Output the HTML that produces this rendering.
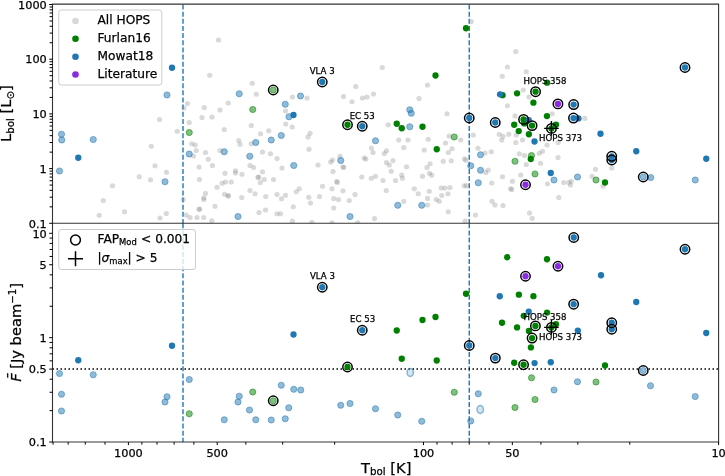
<!DOCTYPE html>
<html><head><meta charset="utf-8"><title>HOPS variability</title>
<style>
html,body{margin:0;padding:0;background:#fff}
svg{display:block}
text{filter:grayscale(1);stroke:#000;stroke-width:.25px}
text{font-family:"DejaVu Sans","Liberation Sans",sans-serif;fill:#000}
</style></head><body>
<svg width="725" height="476" viewBox="0 0 725 476">
<rect width="725" height="476" fill="#fff"/>
<defs>
<clipPath id="cu"><rect x="52.5" y="4.5" width="666.1" height="218.8"/></clipPath>
<clipPath id="cl"><rect x="52.5" y="223.3" width="666.1" height="218.75"/></clipPath>
</defs>
<!-- upper panel -->
<g clip-path="url(#cu)">
<path d="M183.0 4.5V223.3M469.25 4.5V223.3" stroke="#1f77b4" stroke-width="1.4" stroke-dasharray="5 2.15" fill="none"/>
<circle cx="218.5" cy="40.0" r="2.6" fill="#808080" fill-opacity=".3"/>
<circle cx="209.75" cy="75.25" r="2.6" fill="#808080" fill-opacity=".3"/>
<circle cx="187.5" cy="103.5" r="2.6" fill="#808080" fill-opacity=".3"/>
<circle cx="184.0" cy="108.0" r="2.6" fill="#808080" fill-opacity=".3"/>
<circle cx="204.25" cy="107.5" r="2.6" fill="#808080" fill-opacity=".3"/>
<circle cx="220.0" cy="110.0" r="2.6" fill="#808080" fill-opacity=".3"/>
<circle cx="202.0" cy="117.5" r="2.6" fill="#808080" fill-opacity=".3"/>
<circle cx="212.0" cy="117.0" r="2.6" fill="#808080" fill-opacity=".3"/>
<circle cx="159.5" cy="119.5" r="2.6" fill="#808080" fill-opacity=".3"/>
<circle cx="189.25" cy="122.5" r="2.6" fill="#808080" fill-opacity=".3"/>
<circle cx="177.25" cy="131.25" r="2.6" fill="#808080" fill-opacity=".3"/>
<circle cx="191.75" cy="143.75" r="2.6" fill="#808080" fill-opacity=".3"/>
<circle cx="195.25" cy="145.0" r="2.6" fill="#808080" fill-opacity=".3"/>
<circle cx="151.25" cy="146.25" r="2.6" fill="#808080" fill-opacity=".3"/>
<circle cx="196.25" cy="150.5" r="2.6" fill="#808080" fill-opacity=".3"/>
<circle cx="205.5" cy="152.5" r="2.6" fill="#808080" fill-opacity=".3"/>
<circle cx="220.0" cy="150.5" r="2.6" fill="#808080" fill-opacity=".3"/>
<circle cx="193.5" cy="156.0" r="2.6" fill="#808080" fill-opacity=".3"/>
<circle cx="208.25" cy="159.25" r="2.6" fill="#808080" fill-opacity=".3"/>
<circle cx="155.0" cy="165.75" r="2.6" fill="#808080" fill-opacity=".3"/>
<circle cx="212.5" cy="165.5" r="2.6" fill="#808080" fill-opacity=".3"/>
<circle cx="199.0" cy="167.0" r="2.6" fill="#808080" fill-opacity=".3"/>
<circle cx="166.5" cy="172.25" r="2.6" fill="#808080" fill-opacity=".3"/>
<circle cx="139.25" cy="176.75" r="2.6" fill="#808080" fill-opacity=".3"/>
<circle cx="150.5" cy="179.75" r="2.6" fill="#808080" fill-opacity=".3"/>
<circle cx="199.5" cy="179.5" r="2.6" fill="#808080" fill-opacity=".3"/>
<circle cx="112.5" cy="185.75" r="2.6" fill="#808080" fill-opacity=".3"/>
<circle cx="217.0" cy="187.25" r="2.6" fill="#808080" fill-opacity=".3"/>
<circle cx="205.5" cy="193.25" r="2.6" fill="#808080" fill-opacity=".3"/>
<circle cx="103.25" cy="200.5" r="2.6" fill="#808080" fill-opacity=".3"/>
<circle cx="183.25" cy="199.5" r="2.6" fill="#808080" fill-opacity=".3"/>
<circle cx="203.75" cy="199.5" r="2.6" fill="#808080" fill-opacity=".3"/>
<circle cx="215.0" cy="206.25" r="2.6" fill="#808080" fill-opacity=".3"/>
<circle cx="199.0" cy="209.25" r="2.6" fill="#808080" fill-opacity=".3"/>
<circle cx="124.5" cy="211.75" r="2.6" fill="#808080" fill-opacity=".3"/>
<circle cx="99.25" cy="215.25" r="2.6" fill="#808080" fill-opacity=".3"/>
<circle cx="166.25" cy="213.5" r="2.6" fill="#808080" fill-opacity=".3"/>
<circle cx="186.25" cy="215.0" r="2.6" fill="#808080" fill-opacity=".3"/>
<circle cx="160.0" cy="218.0" r="2.6" fill="#808080" fill-opacity=".3"/>
<circle cx="190.0" cy="217.5" r="2.6" fill="#808080" fill-opacity=".3"/>
<circle cx="197.0" cy="217.5" r="2.6" fill="#808080" fill-opacity=".3"/>
<circle cx="203.75" cy="217.5" r="2.6" fill="#808080" fill-opacity=".3"/>
<circle cx="382.25" cy="67.5" r="2.6" fill="#808080" fill-opacity=".3"/>
<circle cx="252.25" cy="83.25" r="2.6" fill="#808080" fill-opacity=".3"/>
<circle cx="355.75" cy="86.5" r="2.6" fill="#808080" fill-opacity=".3"/>
<circle cx="256.25" cy="94.25" r="2.6" fill="#808080" fill-opacity=".3"/>
<circle cx="292.5" cy="97.0" r="2.6" fill="#808080" fill-opacity=".3"/>
<circle cx="307.0" cy="98.0" r="2.6" fill="#808080" fill-opacity=".3"/>
<circle cx="343.5" cy="96.5" r="2.6" fill="#808080" fill-opacity=".3"/>
<circle cx="373.5" cy="94.0" r="2.6" fill="#808080" fill-opacity=".3"/>
<circle cx="367.0" cy="97.0" r="2.6" fill="#808080" fill-opacity=".3"/>
<circle cx="362.5" cy="98.0" r="2.6" fill="#808080" fill-opacity=".3"/>
<circle cx="352.0" cy="101.75" r="2.6" fill="#808080" fill-opacity=".3"/>
<circle cx="228.25" cy="103.0" r="2.6" fill="#808080" fill-opacity=".3"/>
<circle cx="285.5" cy="111.0" r="2.6" fill="#808080" fill-opacity=".3"/>
<circle cx="251.25" cy="125.5" r="2.6" fill="#808080" fill-opacity=".3"/>
<circle cx="285.75" cy="124.0" r="2.6" fill="#808080" fill-opacity=".3"/>
<circle cx="292.25" cy="127.0" r="2.6" fill="#808080" fill-opacity=".3"/>
<circle cx="224.25" cy="129.5" r="2.6" fill="#808080" fill-opacity=".3"/>
<circle cx="268.75" cy="130.75" r="2.6" fill="#808080" fill-opacity=".3"/>
<circle cx="260.5" cy="133.75" r="2.6" fill="#808080" fill-opacity=".3"/>
<circle cx="310.0" cy="133.25" r="2.6" fill="#808080" fill-opacity=".3"/>
<circle cx="308.0" cy="137.0" r="2.6" fill="#808080" fill-opacity=".3"/>
<circle cx="238.75" cy="140.5" r="2.6" fill="#808080" fill-opacity=".3"/>
<circle cx="240.0" cy="144.25" r="2.6" fill="#808080" fill-opacity=".3"/>
<circle cx="251.25" cy="143.75" r="2.6" fill="#808080" fill-opacity=".3"/>
<circle cx="388.25" cy="124.75" r="2.6" fill="#808080" fill-opacity=".3"/>
<circle cx="309.0" cy="149.25" r="2.6" fill="#808080" fill-opacity=".3"/>
<circle cx="262.5" cy="152.0" r="2.6" fill="#808080" fill-opacity=".3"/>
<circle cx="270.5" cy="153.75" r="2.6" fill="#808080" fill-opacity=".3"/>
<circle cx="371.5" cy="148.0" r="2.6" fill="#808080" fill-opacity=".3"/>
<circle cx="373.0" cy="152.5" r="2.6" fill="#808080" fill-opacity=".3"/>
<circle cx="386.5" cy="150.75" r="2.6" fill="#808080" fill-opacity=".3"/>
<circle cx="384.25" cy="153.5" r="2.6" fill="#808080" fill-opacity=".3"/>
<circle cx="340.0" cy="156.25" r="2.6" fill="#808080" fill-opacity=".3"/>
<circle cx="277.0" cy="158.5" r="2.6" fill="#808080" fill-opacity=".3"/>
<circle cx="332.5" cy="160.0" r="2.6" fill="#808080" fill-opacity=".3"/>
<circle cx="330.75" cy="162.0" r="2.6" fill="#808080" fill-opacity=".3"/>
<circle cx="364.25" cy="158.0" r="2.6" fill="#808080" fill-opacity=".3"/>
<circle cx="393.0" cy="160.5" r="2.6" fill="#808080" fill-opacity=".3"/>
<circle cx="386.5" cy="162.5" r="2.6" fill="#808080" fill-opacity=".3"/>
<circle cx="389.25" cy="165.0" r="2.6" fill="#808080" fill-opacity=".3"/>
<circle cx="250.0" cy="165.5" r="2.6" fill="#808080" fill-opacity=".3"/>
<circle cx="253.75" cy="167.5" r="2.6" fill="#808080" fill-opacity=".3"/>
<circle cx="282.0" cy="168.0" r="2.6" fill="#808080" fill-opacity=".3"/>
<circle cx="318.0" cy="165.0" r="2.6" fill="#808080" fill-opacity=".3"/>
<circle cx="343.0" cy="167.0" r="2.6" fill="#808080" fill-opacity=".3"/>
<circle cx="235.5" cy="170.75" r="2.6" fill="#808080" fill-opacity=".3"/>
<circle cx="235.5" cy="173.0" r="2.6" fill="#808080" fill-opacity=".3"/>
<circle cx="225.0" cy="173.25" r="2.6" fill="#808080" fill-opacity=".3"/>
<circle cx="242.0" cy="174.25" r="2.6" fill="#808080" fill-opacity=".3"/>
<circle cx="262.5" cy="171.75" r="2.6" fill="#808080" fill-opacity=".3"/>
<circle cx="333.0" cy="171.5" r="2.6" fill="#808080" fill-opacity=".3"/>
<circle cx="258.75" cy="177.0" r="2.6" fill="#808080" fill-opacity=".3"/>
<circle cx="264.25" cy="179.5" r="2.6" fill="#808080" fill-opacity=".3"/>
<circle cx="273.5" cy="179.5" r="2.6" fill="#808080" fill-opacity=".3"/>
<circle cx="260.25" cy="182.5" r="2.6" fill="#808080" fill-opacity=".3"/>
<circle cx="361.75" cy="177.0" r="2.6" fill="#808080" fill-opacity=".3"/>
<circle cx="375.5" cy="176.25" r="2.6" fill="#808080" fill-opacity=".3"/>
<circle cx="371.25" cy="178.25" r="2.6" fill="#808080" fill-opacity=".3"/>
<circle cx="383.0" cy="180.5" r="2.6" fill="#808080" fill-opacity=".3"/>
<circle cx="336.75" cy="181.5" r="2.6" fill="#808080" fill-opacity=".3"/>
<circle cx="225.5" cy="182.0" r="2.6" fill="#808080" fill-opacity=".3"/>
<circle cx="231.25" cy="182.0" r="2.6" fill="#808080" fill-opacity=".3"/>
<circle cx="222.0" cy="183.25" r="2.6" fill="#808080" fill-opacity=".3"/>
<circle cx="322.5" cy="186.25" r="2.6" fill="#808080" fill-opacity=".3"/>
<circle cx="299.25" cy="188.75" r="2.6" fill="#808080" fill-opacity=".3"/>
<circle cx="296.25" cy="191.75" r="2.6" fill="#808080" fill-opacity=".3"/>
<circle cx="332.0" cy="188.75" r="2.6" fill="#808080" fill-opacity=".3"/>
<circle cx="343.0" cy="190.75" r="2.6" fill="#808080" fill-opacity=".3"/>
<circle cx="386.25" cy="190.5" r="2.6" fill="#808080" fill-opacity=".3"/>
<circle cx="250.0" cy="190.5" r="2.6" fill="#808080" fill-opacity=".3"/>
<circle cx="255.0" cy="193.75" r="2.6" fill="#808080" fill-opacity=".3"/>
<circle cx="224.5" cy="194.25" r="2.6" fill="#808080" fill-opacity=".3"/>
<circle cx="228.0" cy="195.5" r="2.6" fill="#808080" fill-opacity=".3"/>
<circle cx="277.0" cy="194.5" r="2.6" fill="#808080" fill-opacity=".3"/>
<circle cx="285.5" cy="195.25" r="2.6" fill="#808080" fill-opacity=".3"/>
<circle cx="265.75" cy="196.5" r="2.6" fill="#808080" fill-opacity=".3"/>
<circle cx="241.75" cy="197.5" r="2.6" fill="#808080" fill-opacity=".3"/>
<circle cx="281.5" cy="198.75" r="2.6" fill="#808080" fill-opacity=".3"/>
<circle cx="308.75" cy="197.25" r="2.6" fill="#808080" fill-opacity=".3"/>
<circle cx="319.5" cy="196.5" r="2.6" fill="#808080" fill-opacity=".3"/>
<circle cx="355.0" cy="194.5" r="2.6" fill="#808080" fill-opacity=".3"/>
<circle cx="333.75" cy="198.5" r="2.6" fill="#808080" fill-opacity=".3"/>
<circle cx="338.5" cy="199.5" r="2.6" fill="#808080" fill-opacity=".3"/>
<circle cx="349.25" cy="200.5" r="2.6" fill="#808080" fill-opacity=".3"/>
<circle cx="310.5" cy="203.0" r="2.6" fill="#808080" fill-opacity=".3"/>
<circle cx="333.75" cy="208.0" r="2.6" fill="#808080" fill-opacity=".3"/>
<circle cx="293.25" cy="206.75" r="2.6" fill="#808080" fill-opacity=".3"/>
<circle cx="265.5" cy="210.0" r="2.6" fill="#808080" fill-opacity=".3"/>
<circle cx="259.0" cy="212.5" r="2.6" fill="#808080" fill-opacity=".3"/>
<circle cx="277.0" cy="213.75" r="2.6" fill="#808080" fill-opacity=".3"/>
<circle cx="280.5" cy="213.75" r="2.6" fill="#808080" fill-opacity=".3"/>
<circle cx="471.25" cy="21.5" r="2.6" fill="#808080" fill-opacity=".3"/>
<circle cx="515.75" cy="51.5" r="2.6" fill="#808080" fill-opacity=".3"/>
<circle cx="507.5" cy="67.0" r="2.6" fill="#808080" fill-opacity=".3"/>
<circle cx="526.25" cy="71.75" r="2.6" fill="#808080" fill-opacity=".3"/>
<circle cx="502.25" cy="76.25" r="2.6" fill="#808080" fill-opacity=".3"/>
<circle cx="427.5" cy="85.0" r="2.6" fill="#808080" fill-opacity=".3"/>
<circle cx="523.25" cy="90.0" r="2.6" fill="#808080" fill-opacity=".3"/>
<circle cx="419.0" cy="98.5" r="2.6" fill="#808080" fill-opacity=".3"/>
<circle cx="529.0" cy="97.0" r="2.6" fill="#808080" fill-opacity=".3"/>
<circle cx="507.5" cy="105.75" r="2.6" fill="#808080" fill-opacity=".3"/>
<circle cx="447.0" cy="113.75" r="2.6" fill="#808080" fill-opacity=".3"/>
<circle cx="398.75" cy="140.0" r="2.6" fill="#808080" fill-opacity=".3"/>
<circle cx="408.0" cy="140.0" r="2.6" fill="#808080" fill-opacity=".3"/>
<circle cx="428.25" cy="139.25" r="2.6" fill="#808080" fill-opacity=".3"/>
<circle cx="403.75" cy="147.5" r="2.6" fill="#808080" fill-opacity=".3"/>
<circle cx="424.25" cy="150.0" r="2.6" fill="#808080" fill-opacity=".3"/>
<circle cx="445.5" cy="143.0" r="2.6" fill="#808080" fill-opacity=".3"/>
<circle cx="460.75" cy="140.0" r="2.6" fill="#808080" fill-opacity=".3"/>
<circle cx="448.25" cy="152.5" r="2.6" fill="#808080" fill-opacity=".3"/>
<circle cx="452.0" cy="148.75" r="2.6" fill="#808080" fill-opacity=".3"/>
<circle cx="443.25" cy="161.25" r="2.6" fill="#808080" fill-opacity=".3"/>
<circle cx="451.25" cy="160.75" r="2.6" fill="#808080" fill-opacity=".3"/>
<circle cx="430.0" cy="163.75" r="2.6" fill="#808080" fill-opacity=".3"/>
<circle cx="427.0" cy="167.5" r="2.6" fill="#808080" fill-opacity=".3"/>
<circle cx="406.5" cy="166.75" r="2.6" fill="#808080" fill-opacity=".3"/>
<circle cx="464.5" cy="158.75" r="2.6" fill="#808080" fill-opacity=".3"/>
<circle cx="473.25" cy="135.0" r="2.6" fill="#808080" fill-opacity=".3"/>
<circle cx="478.0" cy="148.25" r="2.6" fill="#808080" fill-opacity=".3"/>
<circle cx="485.0" cy="153.0" r="2.6" fill="#808080" fill-opacity=".3"/>
<circle cx="491.25" cy="151.75" r="2.6" fill="#808080" fill-opacity=".3"/>
<circle cx="499.25" cy="134.25" r="2.6" fill="#808080" fill-opacity=".3"/>
<circle cx="503.0" cy="136.25" r="2.6" fill="#808080" fill-opacity=".3"/>
<circle cx="501.75" cy="140.0" r="2.6" fill="#808080" fill-opacity=".3"/>
<circle cx="508.75" cy="134.25" r="2.6" fill="#808080" fill-opacity=".3"/>
<circle cx="516.25" cy="135.0" r="2.6" fill="#808080" fill-opacity=".3"/>
<circle cx="515.75" cy="142.5" r="2.6" fill="#808080" fill-opacity=".3"/>
<circle cx="522.5" cy="140.0" r="2.6" fill="#808080" fill-opacity=".3"/>
<circle cx="519.25" cy="153.75" r="2.6" fill="#808080" fill-opacity=".3"/>
<circle cx="524.5" cy="155.5" r="2.6" fill="#808080" fill-opacity=".3"/>
<circle cx="539.25" cy="153.25" r="2.6" fill="#808080" fill-opacity=".3"/>
<circle cx="542.5" cy="151.25" r="2.6" fill="#808080" fill-opacity=".3"/>
<circle cx="547.0" cy="145.0" r="2.6" fill="#808080" fill-opacity=".3"/>
<circle cx="540.5" cy="163.25" r="2.6" fill="#808080" fill-opacity=".3"/>
<circle cx="526.25" cy="164.5" r="2.6" fill="#808080" fill-opacity=".3"/>
<circle cx="558.0" cy="157.5" r="2.6" fill="#808080" fill-opacity=".3"/>
<circle cx="488.25" cy="170.0" r="2.6" fill="#808080" fill-opacity=".3"/>
<circle cx="485.75" cy="172.5" r="2.6" fill="#808080" fill-opacity=".3"/>
<circle cx="502.5" cy="176.75" r="2.6" fill="#808080" fill-opacity=".3"/>
<circle cx="520.75" cy="175.0" r="2.6" fill="#808080" fill-opacity=".3"/>
<circle cx="512.5" cy="181.25" r="2.6" fill="#808080" fill-opacity=".3"/>
<circle cx="491.75" cy="183.0" r="2.6" fill="#808080" fill-opacity=".3"/>
<circle cx="510.5" cy="188.75" r="2.6" fill="#808080" fill-opacity=".3"/>
<circle cx="547.5" cy="183.75" r="2.6" fill="#808080" fill-opacity=".3"/>
<circle cx="563.75" cy="182.5" r="2.6" fill="#808080" fill-opacity=".3"/>
<circle cx="568.75" cy="182.5" r="2.6" fill="#808080" fill-opacity=".3"/>
<circle cx="401.75" cy="175.0" r="2.6" fill="#808080" fill-opacity=".3"/>
<circle cx="395.5" cy="180.5" r="2.6" fill="#808080" fill-opacity=".3"/>
<circle cx="422.5" cy="176.25" r="2.6" fill="#808080" fill-opacity=".3"/>
<circle cx="429.5" cy="173.25" r="2.6" fill="#808080" fill-opacity=".3"/>
<circle cx="464.25" cy="185.75" r="2.6" fill="#808080" fill-opacity=".3"/>
<circle cx="414.25" cy="188.75" r="2.6" fill="#808080" fill-opacity=".3"/>
<circle cx="418.25" cy="193.75" r="2.6" fill="#808080" fill-opacity=".3"/>
<circle cx="429.25" cy="191.25" r="2.6" fill="#808080" fill-opacity=".3"/>
<circle cx="441.25" cy="188.0" r="2.6" fill="#808080" fill-opacity=".3"/>
<circle cx="445.0" cy="188.0" r="2.6" fill="#808080" fill-opacity=".3"/>
<circle cx="450.0" cy="187.5" r="2.6" fill="#808080" fill-opacity=".3"/>
<circle cx="441.75" cy="195.5" r="2.6" fill="#808080" fill-opacity=".3"/>
<circle cx="448.0" cy="193.75" r="2.6" fill="#808080" fill-opacity=".3"/>
<circle cx="436.25" cy="199.5" r="2.6" fill="#808080" fill-opacity=".3"/>
<circle cx="439.25" cy="201.25" r="2.6" fill="#808080" fill-opacity=".3"/>
<circle cx="403.75" cy="201.25" r="2.6" fill="#808080" fill-opacity=".3"/>
<circle cx="427.5" cy="205.0" r="2.6" fill="#808080" fill-opacity=".3"/>
<circle cx="492.0" cy="201.25" r="2.6" fill="#808080" fill-opacity=".3"/>
<circle cx="495.0" cy="205.0" r="2.6" fill="#808080" fill-opacity=".3"/>
<circle cx="503.0" cy="205.5" r="2.6" fill="#808080" fill-opacity=".3"/>
<circle cx="448.25" cy="211.75" r="2.6" fill="#808080" fill-opacity=".3"/>
<circle cx="475.5" cy="215.0" r="2.6" fill="#808080" fill-opacity=".3"/>
<circle cx="529.5" cy="213.0" r="2.6" fill="#808080" fill-opacity=".3"/>
<circle cx="558.75" cy="197.5" r="2.6" fill="#808080" fill-opacity=".3"/>
<circle cx="391.25" cy="171.25" r="2.6" fill="#808080" fill-opacity=".3"/>
<circle cx="552.1" cy="113.73" r="2.6" fill="#808080" fill-opacity=".3"/>
<circle cx="515.05" cy="115.9" r="2.6" fill="#808080" fill-opacity=".3"/>
<circle cx="584.81" cy="118.4" r="2.6" fill="#808080" fill-opacity=".3"/>
<circle cx="558.11" cy="142.6" r="2.6" fill="#808080" fill-opacity=".3"/>
<circle cx="595.5" cy="169.25" r="2.6" fill="#808080" fill-opacity=".3"/>
<circle cx="611.75" cy="168.0" r="2.6" fill="#808080" fill-opacity=".3"/>
<circle cx="592.0" cy="176.25" r="2.6" fill="#808080" fill-opacity=".3"/>
<circle cx="571.25" cy="181.25" r="2.6" fill="#808080" fill-opacity=".3"/>
<circle cx="570.5" cy="185.0" r="2.6" fill="#808080" fill-opacity=".3"/>
<circle cx="603.0" cy="186.25" r="2.6" fill="#808080" fill-opacity=".3"/>
<circle cx="203.94" cy="197.74" r="2.6" fill="#808080" fill-opacity=".3"/>
<circle cx="199.76" cy="209.09" r="2.6" fill="#808080" fill-opacity=".3"/>
<circle cx="228.47" cy="196.07" r="2.6" fill="#808080" fill-opacity=".3"/>
<circle cx="211.78" cy="220.77" r="2.6" fill="#808080" fill-opacity=".3"/>
<circle cx="258.01" cy="177.38" r="2.6" fill="#808080" fill-opacity=".3"/>
<circle cx="343.79" cy="167.37" r="2.6" fill="#808080" fill-opacity=".3"/>
<circle cx="337.29" cy="182.39" r="2.6" fill="#808080" fill-opacity=".3"/>
<circle cx="365.82" cy="159.02" r="2.6" fill="#808080" fill-opacity=".3"/>
<circle cx="292.39" cy="221.11" r="2.6" fill="#808080" fill-opacity=".3"/>
<circle cx="311.92" cy="222.44" r="2.6" fill="#808080" fill-opacity=".3"/>
<circle cx="331.94" cy="222.78" r="2.6" fill="#808080" fill-opacity=".3"/>
<circle cx="357.81" cy="222.78" r="2.6" fill="#808080" fill-opacity=".3"/>
<circle cx="402.38" cy="178.21" r="2.6" fill="#808080" fill-opacity=".3"/>
<circle cx="431.75" cy="175.21" r="2.6" fill="#808080" fill-opacity=".3"/>
<circle cx="427.58" cy="198.41" r="2.6" fill="#808080" fill-opacity=".3"/>
<circle cx="374.5" cy="218.6" r="2.6" fill="#808080" fill-opacity=".3"/>
<circle cx="465.13" cy="221.11" r="2.6" fill="#808080" fill-opacity=".3"/>
<circle cx="465.8" cy="160.19" r="2.6" fill="#808080" fill-opacity=".3"/>
<circle cx="466.46" cy="185.72" r="2.6" fill="#808080" fill-opacity=".3"/>
<circle cx="532.22" cy="218.27" r="2.6" fill="#808080" fill-opacity=".3"/>
<circle cx="511.86" cy="189.4" r="2.6" fill="#808080" fill-opacity=".3"/>
<circle cx="449.11" cy="136.1" r="2.6" fill="#808080" fill-opacity=".3"/>
<circle cx="466.0" cy="28.25" r="3.15" fill="#008000"/>
<circle cx="435.5" cy="75.5" r="3.15" fill="#008000"/>
<circle cx="396.75" cy="123.75" r="3.15" fill="#008000"/>
<circle cx="401.75" cy="128.25" r="3.15" fill="#008000"/>
<circle cx="422.5" cy="126.75" r="3.15" fill="#008000"/>
<circle cx="436.75" cy="149.25" r="3.15" fill="#008000"/>
<circle cx="530.75" cy="159.0" r="3.15" fill="#008000"/>
<circle cx="502.53" cy="95.2" r="3.15" fill="#008000"/>
<circle cx="517.05" cy="93.37" r="3.15" fill="#008000"/>
<circle cx="547.09" cy="82.68" r="3.15" fill="#008000"/>
<circle cx="533.41" cy="102.71" r="3.15" fill="#008000"/>
<circle cx="546.93" cy="116.06" r="3.15" fill="#008000"/>
<circle cx="524.23" cy="123.41" r="3.15" fill="#008000"/>
<circle cx="514.21" cy="124.74" r="3.15" fill="#008000"/>
<circle cx="518.72" cy="131.08" r="3.15" fill="#008000"/>
<circle cx="528.9" cy="134.26" r="3.15" fill="#008000"/>
<circle cx="555.94" cy="124.74" r="3.15" fill="#008000"/>
<circle cx="605.0" cy="182.5" r="3.15" fill="#008000"/>
<circle cx="347.5" cy="124.75" r="3.15" fill="#008000"/>
<circle cx="535.58" cy="91.7" r="3.15" fill="#008000"/>
<circle cx="523.56" cy="119.4" r="3.15" fill="#008000"/>
<circle cx="532.07" cy="125.58" r="3.15" fill="#008000"/>
<circle cx="551.43" cy="128.41" r="3.15" fill="#008000"/>
<circle cx="189.25" cy="132.5" r="3.1" fill="#008000" fill-opacity=".5" stroke="#008000" stroke-opacity=".5" stroke-width="1"/>
<circle cx="252.75" cy="109.5" r="3.1" fill="#008000" fill-opacity=".5" stroke="#008000" stroke-opacity=".5" stroke-width="1"/>
<circle cx="454.25" cy="137.0" r="3.1" fill="#008000" fill-opacity=".5" stroke="#008000" stroke-opacity=".5" stroke-width="1"/>
<circle cx="515.0" cy="161.25" r="3.1" fill="#008000" fill-opacity=".5" stroke="#008000" stroke-opacity=".5" stroke-width="1"/>
<circle cx="531.5" cy="155.5" r="3.1" fill="#008000" fill-opacity=".5" stroke="#008000" stroke-opacity=".5" stroke-width="1"/>
<circle cx="535.0" cy="174.0" r="3.1" fill="#008000" fill-opacity=".5" stroke="#008000" stroke-opacity=".5" stroke-width="1"/>
<circle cx="596.0" cy="180.0" r="3.1" fill="#008000" fill-opacity=".5" stroke="#008000" stroke-opacity=".5" stroke-width="1"/>
<circle cx="273.25" cy="90.0" r="3.15" fill="#fff"/>
<circle cx="273.25" cy="90.0" r="3.1" fill="#008000" fill-opacity=".5" stroke="#008000" stroke-opacity=".5" stroke-width="1"/>
<circle cx="167.0" cy="95.0" r="3.1" fill="#1f77b4" fill-opacity=".5" stroke="#1f77b4" stroke-opacity=".5" stroke-width="1"/>
<circle cx="61.5" cy="134.25" r="3.1" fill="#1f77b4" fill-opacity=".5" stroke="#1f77b4" stroke-opacity=".5" stroke-width="1"/>
<circle cx="61.75" cy="140.0" r="3.1" fill="#1f77b4" fill-opacity=".5" stroke="#1f77b4" stroke-opacity=".5" stroke-width="1"/>
<circle cx="93.25" cy="139.5" r="3.1" fill="#1f77b4" fill-opacity=".5" stroke="#1f77b4" stroke-opacity=".5" stroke-width="1"/>
<circle cx="59.5" cy="171.0" r="3.1" fill="#1f77b4" fill-opacity=".5" stroke="#1f77b4" stroke-opacity=".5" stroke-width="1"/>
<circle cx="165.0" cy="181.75" r="3.1" fill="#1f77b4" fill-opacity=".5" stroke="#1f77b4" stroke-opacity=".5" stroke-width="1"/>
<circle cx="189.25" cy="154.0" r="3.1" fill="#1f77b4" fill-opacity=".5" stroke="#1f77b4" stroke-opacity=".5" stroke-width="1"/>
<circle cx="239.25" cy="93.75" r="3.1" fill="#1f77b4" fill-opacity=".5" stroke="#1f77b4" stroke-opacity=".5" stroke-width="1"/>
<circle cx="300.5" cy="96.0" r="3.1" fill="#1f77b4" fill-opacity=".5" stroke="#1f77b4" stroke-opacity=".5" stroke-width="1"/>
<circle cx="285.25" cy="104.25" r="3.1" fill="#1f77b4" fill-opacity=".5" stroke="#1f77b4" stroke-opacity=".5" stroke-width="1"/>
<circle cx="289.0" cy="116.75" r="3.1" fill="#1f77b4" fill-opacity=".5" stroke="#1f77b4" stroke-opacity=".5" stroke-width="1"/>
<circle cx="281.25" cy="135.5" r="3.1" fill="#1f77b4" fill-opacity=".5" stroke="#1f77b4" stroke-opacity=".5" stroke-width="1"/>
<circle cx="271.25" cy="140.0" r="3.1" fill="#1f77b4" fill-opacity=".5" stroke="#1f77b4" stroke-opacity=".5" stroke-width="1"/>
<circle cx="255.75" cy="142.5" r="3.1" fill="#1f77b4" fill-opacity=".5" stroke="#1f77b4" stroke-opacity=".5" stroke-width="1"/>
<circle cx="224.25" cy="151.75" r="3.1" fill="#1f77b4" fill-opacity=".5" stroke="#1f77b4" stroke-opacity=".5" stroke-width="1"/>
<circle cx="249.75" cy="156.25" r="3.1" fill="#1f77b4" fill-opacity=".5" stroke="#1f77b4" stroke-opacity=".5" stroke-width="1"/>
<circle cx="293.75" cy="165.5" r="3.1" fill="#1f77b4" fill-opacity=".5" stroke="#1f77b4" stroke-opacity=".5" stroke-width="1"/>
<circle cx="340.75" cy="160.5" r="3.1" fill="#1f77b4" fill-opacity=".5" stroke="#1f77b4" stroke-opacity=".5" stroke-width="1"/>
<circle cx="375.5" cy="140.75" r="3.1" fill="#1f77b4" fill-opacity=".5" stroke="#1f77b4" stroke-opacity=".5" stroke-width="1"/>
<circle cx="238.0" cy="216.5" r="3.1" fill="#1f77b4" fill-opacity=".5" stroke="#1f77b4" stroke-opacity=".5" stroke-width="1"/>
<circle cx="350.0" cy="216.5" r="3.1" fill="#1f77b4" fill-opacity=".5" stroke="#1f77b4" stroke-opacity=".5" stroke-width="1"/>
<circle cx="409.75" cy="109.75" r="3.1" fill="#1f77b4" fill-opacity=".5" stroke="#1f77b4" stroke-opacity=".5" stroke-width="1"/>
<circle cx="411.25" cy="113.25" r="3.1" fill="#1f77b4" fill-opacity=".5" stroke="#1f77b4" stroke-opacity=".5" stroke-width="1"/>
<circle cx="409.75" cy="126.75" r="3.1" fill="#1f77b4" fill-opacity=".5" stroke="#1f77b4" stroke-opacity=".5" stroke-width="1"/>
<circle cx="480.5" cy="154.75" r="3.1" fill="#1f77b4" fill-opacity=".5" stroke="#1f77b4" stroke-opacity=".5" stroke-width="1"/>
<circle cx="470.75" cy="165.75" r="3.1" fill="#1f77b4" fill-opacity=".5" stroke="#1f77b4" stroke-opacity=".5" stroke-width="1"/>
<circle cx="480.5" cy="170.25" r="3.1" fill="#1f77b4" fill-opacity=".5" stroke="#1f77b4" stroke-opacity=".5" stroke-width="1"/>
<circle cx="478.25" cy="182.75" r="3.1" fill="#1f77b4" fill-opacity=".5" stroke="#1f77b4" stroke-opacity=".5" stroke-width="1"/>
<circle cx="554.0" cy="180.0" r="3.1" fill="#1f77b4" fill-opacity=".5" stroke="#1f77b4" stroke-opacity=".5" stroke-width="1"/>
<circle cx="397.75" cy="205.25" r="3.1" fill="#1f77b4" fill-opacity=".5" stroke="#1f77b4" stroke-opacity=".5" stroke-width="1"/>
<circle cx="421.75" cy="205.25" r="3.1" fill="#1f77b4" fill-opacity=".5" stroke="#1f77b4" stroke-opacity=".5" stroke-width="1"/>
<circle cx="577.5" cy="177.0" r="3.1" fill="#1f77b4" fill-opacity=".5" stroke="#1f77b4" stroke-opacity=".5" stroke-width="1"/>
<circle cx="650.75" cy="177.5" r="3.1" fill="#1f77b4" fill-opacity=".5" stroke="#1f77b4" stroke-opacity=".5" stroke-width="1"/>
<circle cx="695.25" cy="180.0" r="3.1" fill="#1f77b4" fill-opacity=".5" stroke="#1f77b4" stroke-opacity=".5" stroke-width="1"/>
<circle cx="643.25" cy="177.0" r="3.15" fill="#fff"/>
<circle cx="643.25" cy="177.0" r="3.1" fill="#1f77b4" fill-opacity=".5" stroke="#1f77b4" stroke-opacity=".5" stroke-width="1"/>
<circle cx="172.0" cy="67.75" r="3.15" fill="#1f77b4"/>
<circle cx="78.25" cy="157.75" r="3.15" fill="#1f77b4"/>
<circle cx="293.5" cy="115.0" r="3.15" fill="#1f77b4"/>
<circle cx="534.5" cy="141.5" r="3.15" fill="#1f77b4"/>
<circle cx="550.75" cy="173.0" r="3.15" fill="#1f77b4"/>
<circle cx="500.03" cy="94.37" r="3.15" fill="#1f77b4"/>
<circle cx="528.73" cy="120.07" r="3.15" fill="#1f77b4"/>
<circle cx="578.47" cy="118.4" r="3.15" fill="#1f77b4"/>
<circle cx="600.5" cy="133.75" r="3.15" fill="#1f77b4"/>
<circle cx="636.25" cy="151.25" r="3.15" fill="#1f77b4"/>
<circle cx="706.25" cy="158.75" r="3.15" fill="#1f77b4"/>
<circle cx="322.25" cy="82.0" r="3.15" fill="#1f77b4"/>
<circle cx="362.25" cy="126.25" r="3.15" fill="#1f77b4"/>
<circle cx="469.25" cy="118.0" r="3.15" fill="#1f77b4"/>
<circle cx="495.25" cy="122.5" r="3.15" fill="#1f77b4"/>
<circle cx="573.63" cy="104.55" r="3.15" fill="#1f77b4"/>
<circle cx="573.46" cy="118.07" r="3.15" fill="#1f77b4"/>
<circle cx="685.0" cy="67.5" r="3.15" fill="#1f77b4"/>
<circle cx="611.75" cy="156.3" r="3.15" fill="#1f77b4"/>
<circle cx="611.75" cy="160.0" r="3.15" fill="#1f77b4"/>
<circle cx="525.5" cy="184.75" r="3.15" fill="#8a2be2"/>
<circle cx="557.94" cy="103.88" r="3.15" fill="#8a2be2"/>
<circle cx="347.5" cy="124.75" r="4.7" fill="none" stroke="#000" stroke-width="1.5"/>
<circle cx="535.58" cy="91.7" r="4.7" fill="none" stroke="#000" stroke-width="1.5"/>
<circle cx="523.56" cy="119.4" r="4.7" fill="none" stroke="#000" stroke-width="1.5"/>
<circle cx="532.07" cy="125.58" r="4.7" fill="none" stroke="#000" stroke-width="1.5"/>
<circle cx="551.43" cy="128.41" r="4.7" fill="none" stroke="#000" stroke-width="1.5"/>
<path d="M544.13 128.41H558.7299999999999M551.43 121.11V135.71" stroke="#000" stroke-width="1.4" fill="none"/>
<circle cx="273.25" cy="90.0" r="4.7" fill="none" stroke="#000" stroke-width="1.5"/>
<circle cx="643.25" cy="177.0" r="4.7" fill="none" stroke="#000" stroke-width="1.5"/>
<circle cx="322.25" cy="82.0" r="4.7" fill="none" stroke="#000" stroke-width="1.5"/>
<circle cx="362.25" cy="126.25" r="4.7" fill="none" stroke="#000" stroke-width="1.5"/>
<circle cx="469.25" cy="118.0" r="4.7" fill="none" stroke="#000" stroke-width="1.5"/>
<circle cx="495.25" cy="122.5" r="4.7" fill="none" stroke="#000" stroke-width="1.5"/>
<circle cx="573.63" cy="104.55" r="4.7" fill="none" stroke="#000" stroke-width="1.5"/>
<circle cx="573.46" cy="118.07" r="4.7" fill="none" stroke="#000" stroke-width="1.5"/>
<circle cx="685.0" cy="67.5" r="4.7" fill="none" stroke="#000" stroke-width="1.5"/>
<circle cx="611.75" cy="156.3" r="4.7" fill="none" stroke="#000" stroke-width="1.5"/>
<circle cx="611.75" cy="160.0" r="4.7" fill="none" stroke="#000" stroke-width="1.5"/>
<circle cx="525.5" cy="184.75" r="4.7" fill="none" stroke="#000" stroke-width="1.5"/>
<circle cx="557.94" cy="103.88" r="4.7" fill="none" stroke="#000" stroke-width="1.5"/>
</g>
<!-- lower panel -->
<g clip-path="url(#cl)">
<path d="M183.0 223.3V442.05M469.25 223.3V442.05" stroke="#1f77b4" stroke-width="1.4" stroke-dasharray="5 2.15" fill="none"/>
<path d="M52.5 369.10H718.6" stroke="#000" stroke-width="1.5" stroke-dasharray="1.5 2.5" fill="none"/>
<circle cx="507.25" cy="257.25" r="3.15" fill="#008000"/>
<circle cx="547.0" cy="259.25" r="3.15" fill="#008000"/>
<circle cx="466.0" cy="293.75" r="3.15" fill="#008000"/>
<circle cx="435.5" cy="317.0" r="3.15" fill="#008000"/>
<circle cx="422.5" cy="320.0" r="3.15" fill="#008000"/>
<circle cx="396.75" cy="330.5" r="3.15" fill="#008000"/>
<circle cx="502.0" cy="322.75" r="3.15" fill="#008000"/>
<circle cx="518.89" cy="294.67" r="3.15" fill="#008000"/>
<circle cx="533.41" cy="296.18" r="3.15" fill="#008000"/>
<circle cx="547.09" cy="312.53" r="3.15" fill="#008000"/>
<circle cx="523.73" cy="315.87" r="3.15" fill="#008000"/>
<circle cx="517.05" cy="327.38" r="3.15" fill="#008000"/>
<circle cx="555.94" cy="324.21" r="3.15" fill="#008000"/>
<circle cx="528.9" cy="330.89" r="3.15" fill="#008000"/>
<circle cx="530.9" cy="347.41" r="3.15" fill="#008000"/>
<circle cx="514.21" cy="362.77" r="3.15" fill="#008000"/>
<circle cx="401.75" cy="358.75" r="3.15" fill="#008000"/>
<circle cx="436.75" cy="360.5" r="3.15" fill="#008000"/>
<circle cx="605.0" cy="365.5" r="3.15" fill="#008000"/>
<circle cx="347.5" cy="367.0" r="3.15" fill="#008000"/>
<circle cx="535.41" cy="325.88" r="3.15" fill="#008000"/>
<circle cx="532.07" cy="338.07" r="3.15" fill="#008000"/>
<circle cx="523.56" cy="364.77" r="3.15" fill="#008000"/>
<circle cx="551.43" cy="327.38" r="3.15" fill="#008000"/>
<circle cx="189.25" cy="413.75" r="3.1" fill="#008000" fill-opacity=".5" stroke="#008000" stroke-opacity=".5" stroke-width="1"/>
<circle cx="252.75" cy="392.0" r="3.1" fill="#008000" fill-opacity=".5" stroke="#008000" stroke-opacity=".5" stroke-width="1"/>
<circle cx="531.5" cy="377.75" r="3.1" fill="#008000" fill-opacity=".5" stroke="#008000" stroke-opacity=".5" stroke-width="1"/>
<circle cx="454.25" cy="392.25" r="3.1" fill="#008000" fill-opacity=".5" stroke="#008000" stroke-opacity=".5" stroke-width="1"/>
<circle cx="535.0" cy="399.5" r="3.1" fill="#008000" fill-opacity=".5" stroke="#008000" stroke-opacity=".5" stroke-width="1"/>
<circle cx="515.0" cy="407.5" r="3.1" fill="#008000" fill-opacity=".5" stroke="#008000" stroke-opacity=".5" stroke-width="1"/>
<circle cx="596.0" cy="382.0" r="3.1" fill="#008000" fill-opacity=".5" stroke="#008000" stroke-opacity=".5" stroke-width="1"/>
<circle cx="273.25" cy="400.75" r="3.15" fill="#fff"/>
<circle cx="273.25" cy="400.75" r="3.1" fill="#008000" fill-opacity=".5" stroke="#008000" stroke-opacity=".5" stroke-width="1"/>
<circle cx="59.5" cy="373.5" r="3.1" fill="#1f77b4" fill-opacity=".5" stroke="#1f77b4" stroke-opacity=".5" stroke-width="1"/>
<circle cx="93.25" cy="374.75" r="3.1" fill="#1f77b4" fill-opacity=".5" stroke="#1f77b4" stroke-opacity=".5" stroke-width="1"/>
<circle cx="61.5" cy="394.25" r="3.1" fill="#1f77b4" fill-opacity=".5" stroke="#1f77b4" stroke-opacity=".5" stroke-width="1"/>
<circle cx="61.5" cy="411.0" r="3.1" fill="#1f77b4" fill-opacity=".5" stroke="#1f77b4" stroke-opacity=".5" stroke-width="1"/>
<circle cx="167.0" cy="396.75" r="3.1" fill="#1f77b4" fill-opacity=".5" stroke="#1f77b4" stroke-opacity=".5" stroke-width="1"/>
<circle cx="165.0" cy="402.0" r="3.1" fill="#1f77b4" fill-opacity=".5" stroke="#1f77b4" stroke-opacity=".5" stroke-width="1"/>
<circle cx="189.25" cy="379.5" r="3.1" fill="#1f77b4" fill-opacity=".5" stroke="#1f77b4" stroke-opacity=".5" stroke-width="1"/>
<circle cx="281.25" cy="385.25" r="3.1" fill="#1f77b4" fill-opacity=".5" stroke="#1f77b4" stroke-opacity=".5" stroke-width="1"/>
<circle cx="293.75" cy="389.25" r="3.1" fill="#1f77b4" fill-opacity=".5" stroke="#1f77b4" stroke-opacity=".5" stroke-width="1"/>
<circle cx="300.75" cy="390.0" r="3.1" fill="#1f77b4" fill-opacity=".5" stroke="#1f77b4" stroke-opacity=".5" stroke-width="1"/>
<circle cx="239.25" cy="396.25" r="3.1" fill="#1f77b4" fill-opacity=".5" stroke="#1f77b4" stroke-opacity=".5" stroke-width="1"/>
<circle cx="238.0" cy="402.0" r="3.1" fill="#1f77b4" fill-opacity=".5" stroke="#1f77b4" stroke-opacity=".5" stroke-width="1"/>
<circle cx="249.5" cy="410.0" r="3.1" fill="#1f77b4" fill-opacity=".5" stroke="#1f77b4" stroke-opacity=".5" stroke-width="1"/>
<circle cx="288.75" cy="407.75" r="3.1" fill="#1f77b4" fill-opacity=".5" stroke="#1f77b4" stroke-opacity=".5" stroke-width="1"/>
<circle cx="224.25" cy="419.75" r="3.1" fill="#1f77b4" fill-opacity=".5" stroke="#1f77b4" stroke-opacity=".5" stroke-width="1"/>
<circle cx="255.75" cy="419.75" r="3.1" fill="#1f77b4" fill-opacity=".5" stroke="#1f77b4" stroke-opacity=".5" stroke-width="1"/>
<circle cx="271.25" cy="420.0" r="3.1" fill="#1f77b4" fill-opacity=".5" stroke="#1f77b4" stroke-opacity=".5" stroke-width="1"/>
<circle cx="285.25" cy="418.75" r="3.1" fill="#1f77b4" fill-opacity=".5" stroke="#1f77b4" stroke-opacity=".5" stroke-width="1"/>
<circle cx="340.75" cy="405.25" r="3.1" fill="#1f77b4" fill-opacity=".5" stroke="#1f77b4" stroke-opacity=".5" stroke-width="1"/>
<circle cx="350.0" cy="403.5" r="3.1" fill="#1f77b4" fill-opacity=".5" stroke="#1f77b4" stroke-opacity=".5" stroke-width="1"/>
<circle cx="375.5" cy="408.75" r="3.1" fill="#1f77b4" fill-opacity=".5" stroke="#1f77b4" stroke-opacity=".5" stroke-width="1"/>
<circle cx="478.25" cy="393.75" r="3.1" fill="#1f77b4" fill-opacity=".5" stroke="#1f77b4" stroke-opacity=".5" stroke-width="1"/>
<circle cx="554.0" cy="390.0" r="3.1" fill="#1f77b4" fill-opacity=".5" stroke="#1f77b4" stroke-opacity=".5" stroke-width="1"/>
<circle cx="397.75" cy="415.0" r="3.1" fill="#1f77b4" fill-opacity=".5" stroke="#1f77b4" stroke-opacity=".5" stroke-width="1"/>
<circle cx="421.75" cy="421.25" r="3.1" fill="#1f77b4" fill-opacity=".5" stroke="#1f77b4" stroke-opacity=".5" stroke-width="1"/>
<circle cx="470.75" cy="421.0" r="3.1" fill="#1f77b4" fill-opacity=".5" stroke="#1f77b4" stroke-opacity=".5" stroke-width="1"/>
<circle cx="577.5" cy="381.75" r="3.1" fill="#1f77b4" fill-opacity=".5" stroke="#1f77b4" stroke-opacity=".5" stroke-width="1"/>
<circle cx="650.5" cy="385.75" r="3.1" fill="#1f77b4" fill-opacity=".5" stroke="#1f77b4" stroke-opacity=".5" stroke-width="1"/>
<circle cx="695.25" cy="396.5" r="3.1" fill="#1f77b4" fill-opacity=".5" stroke="#1f77b4" stroke-opacity=".5" stroke-width="1"/>
<ellipse cx="410.25" cy="372.5" rx="3.2" ry="3.9" fill="#1f77b4" fill-opacity=".18" stroke="#1f77b4" stroke-opacity=".5" stroke-width="1.5"/>
<ellipse cx="480.25" cy="409.5" rx="3.2" ry="3.9" fill="#1f77b4" fill-opacity=".18" stroke="#1f77b4" stroke-opacity=".5" stroke-width="1.5"/>
<circle cx="643.25" cy="370.5" r="3.15" fill="#fff"/>
<circle cx="643.25" cy="370.5" r="3.1" fill="#1f77b4" fill-opacity=".5" stroke="#1f77b4" stroke-opacity=".5" stroke-width="1"/>
<circle cx="172.0" cy="345.75" r="3.15" fill="#1f77b4"/>
<circle cx="78.25" cy="360.25" r="3.15" fill="#1f77b4"/>
<circle cx="293.5" cy="334.5" r="3.15" fill="#1f77b4"/>
<circle cx="499.75" cy="296.25" r="3.15" fill="#1f77b4"/>
<circle cx="528.73" cy="311.7" r="3.15" fill="#1f77b4"/>
<circle cx="577.8" cy="330.72" r="3.15" fill="#1f77b4"/>
<circle cx="534.58" cy="363.1" r="3.15" fill="#1f77b4"/>
<circle cx="550.76" cy="362.27" r="3.15" fill="#1f77b4"/>
<circle cx="601.0" cy="275.25" r="3.15" fill="#1f77b4"/>
<circle cx="636.25" cy="302.0" r="3.15" fill="#1f77b4"/>
<circle cx="706.25" cy="333.0" r="3.15" fill="#1f77b4"/>
<circle cx="322.25" cy="287.25" r="3.15" fill="#1f77b4"/>
<circle cx="362.25" cy="330.25" r="3.15" fill="#1f77b4"/>
<circle cx="573.63" cy="304.19" r="3.15" fill="#1f77b4"/>
<circle cx="495.35" cy="358.09" r="3.15" fill="#1f77b4"/>
<circle cx="469.25" cy="345.5" r="3.15" fill="#1f77b4"/>
<circle cx="573.75" cy="237.5" r="3.15" fill="#1f77b4"/>
<circle cx="685.0" cy="249.25" r="3.15" fill="#1f77b4"/>
<circle cx="611.75" cy="322.75" r="3.15" fill="#1f77b4"/>
<circle cx="611.75" cy="329.25" r="3.15" fill="#1f77b4"/>
<circle cx="558.0" cy="266.25" r="3.15" fill="#8a2be2"/>
<circle cx="525.5" cy="276.25" r="3.15" fill="#8a2be2"/>
<circle cx="347.5" cy="367.0" r="4.7" fill="none" stroke="#000" stroke-width="1.5"/>
<circle cx="535.41" cy="325.88" r="4.7" fill="none" stroke="#000" stroke-width="1.5"/>
<circle cx="532.07" cy="338.07" r="4.7" fill="none" stroke="#000" stroke-width="1.5"/>
<circle cx="523.56" cy="364.77" r="4.7" fill="none" stroke="#000" stroke-width="1.5"/>
<circle cx="551.43" cy="327.38" r="4.7" fill="none" stroke="#000" stroke-width="1.5"/>
<path d="M544.13 327.38H558.7299999999999M551.43 320.08V334.68" stroke="#000" stroke-width="1.4" fill="none"/>
<circle cx="273.25" cy="400.75" r="4.7" fill="none" stroke="#000" stroke-width="1.5"/>
<circle cx="643.25" cy="370.5" r="4.7" fill="none" stroke="#000" stroke-width="1.5"/>
<circle cx="322.25" cy="287.25" r="4.7" fill="none" stroke="#000" stroke-width="1.5"/>
<circle cx="362.25" cy="330.25" r="4.7" fill="none" stroke="#000" stroke-width="1.5"/>
<circle cx="573.63" cy="304.19" r="4.7" fill="none" stroke="#000" stroke-width="1.5"/>
<circle cx="495.35" cy="358.09" r="4.7" fill="none" stroke="#000" stroke-width="1.5"/>
<circle cx="469.25" cy="345.5" r="4.7" fill="none" stroke="#000" stroke-width="1.5"/>
<circle cx="573.75" cy="237.5" r="4.7" fill="none" stroke="#000" stroke-width="1.5"/>
<circle cx="685.0" cy="249.25" r="4.7" fill="none" stroke="#000" stroke-width="1.5"/>
<circle cx="611.75" cy="322.75" r="4.7" fill="none" stroke="#000" stroke-width="1.5"/>
<circle cx="611.75" cy="329.25" r="4.7" fill="none" stroke="#000" stroke-width="1.5"/>
<circle cx="558.0" cy="266.25" r="4.7" fill="none" stroke="#000" stroke-width="1.5"/>
<circle cx="525.5" cy="276.25" r="4.7" fill="none" stroke="#000" stroke-width="1.5"/>
</g>
<!-- annotations -->
<g font-size="8.6">
<text x="322.2" y="73.6" text-anchor="middle">VLA 3</text>
<text x="362.2" y="119.1" text-anchor="middle">EC 53</text>
<text x="545" y="83.7" text-anchor="middle">HOPS 358</text>
<text x="560.6" y="140.8" text-anchor="middle">HOPS 373</text>
<text x="322.4" y="278.8" text-anchor="middle">VLA 3</text>
<text x="362.6" y="322.1" text-anchor="middle">EC 53</text>
<text x="545" y="320" text-anchor="middle">HOPS 358</text>
<text x="560.6" y="340.4" text-anchor="middle">HOPS 373</text>
</g>
<!-- axes frames -->
<path d="M52.5 4.15H718.6V442.05H52.5Z" stroke="#000" stroke-width="1.1" fill="none" opacity=".8"/>
<path d="M52.5 223.3H718.6" stroke="#000" stroke-width="1.1" fill="none" opacity=".8"/>
<path d="M128.40 442.05v3.0 M217.23 442.05v3.0 M423.50 442.05v3.0 M512.33 442.05v3.0 M718.60 442.05v3.0 M53.07 442.05v2.6 M68.16 442.05v2.6 M85.28 442.05v2.6 M105.03 442.05v2.6 M141.90 442.05v2.6 M157.00 442.05v2.6 M174.11 442.05v2.6 M193.87 442.05v2.6 M245.83 442.05v2.6 M282.70 442.05v2.6 M334.67 442.05v2.6 M437.00 442.05v2.6 M452.10 442.05v2.6 M469.21 442.05v2.6 M488.97 442.05v2.6 M540.93 442.05v2.6 M577.80 442.05v2.6 M629.77 442.05v2.6 M52.5 223.30h-3.3 M52.5 206.83h-2.9 M52.5 197.20h-2.9 M52.5 190.37h-2.9 M52.5 185.07h-2.9 M52.5 180.74h-2.9 M52.5 177.07h-2.9 M52.5 173.90h-2.9 M52.5 171.10h-2.9 M52.5 168.60h-3.3 M52.5 152.13h-2.9 M52.5 142.50h-2.9 M52.5 135.67h-2.9 M52.5 130.37h-2.9 M52.5 126.04h-2.9 M52.5 122.37h-2.9 M52.5 119.20h-2.9 M52.5 116.40h-2.9 M52.5 113.90h-3.3 M52.5 97.43h-2.9 M52.5 87.80h-2.9 M52.5 80.97h-2.9 M52.5 75.67h-2.9 M52.5 71.34h-2.9 M52.5 67.67h-2.9 M52.5 64.50h-2.9 M52.5 61.70h-2.9 M52.5 59.20h-3.3 M52.5 42.73h-2.9 M52.5 33.10h-2.9 M52.5 26.27h-2.9 M52.5 20.97h-2.9 M52.5 16.64h-2.9 M52.5 12.97h-2.9 M52.5 9.80h-2.9 M52.5 7.00h-2.9 M52.5 4.50h-3.3 M52.5 233.30h-3.3 M52.5 264.72h-3.3 M52.5 337.68h-3.3 M52.5 369.10h-3.3 M52.5 442.05h-3.3 M52.5 238.08h-2.9 M52.5 243.41h-2.9 M52.5 249.47h-2.9 M52.5 256.46h-2.9 M52.5 274.83h-2.9 M52.5 287.88h-2.9 M52.5 306.25h-2.9 M52.5 342.45h-2.9 M52.5 347.79h-2.9 M52.5 353.84h-2.9 M52.5 360.83h-2.9 M52.5 379.21h-2.9 M52.5 392.25h-2.9 M52.5 410.63h-2.9" stroke="#000" stroke-width="1" fill="none"/>
<g font-size="11.3">
<text x="128.40" y="456.7" text-anchor="middle">1000</text>
<text x="217.23" y="456.7" text-anchor="middle">500</text>
<text x="423.50" y="456.7" text-anchor="middle">100</text>
<text x="512.33" y="456.7" text-anchor="middle">50</text>
<text x="718.60" y="456.7" text-anchor="middle">10</text>
<text x="46.8" y="8.70" text-anchor="end">1000</text>
<text x="46.8" y="63.40" text-anchor="end">100</text>
<text x="46.8" y="118.10" text-anchor="end">10</text>
<text x="46.8" y="172.80" text-anchor="end">1</text>
<text x="46.8" y="227.50" text-anchor="end">0.1</text>
<text x="46.8" y="237.50" text-anchor="end">10</text>
<text x="46.8" y="268.92" text-anchor="end">5</text>
<text x="46.8" y="341.88" text-anchor="end">1</text>
<text x="46.8" y="373.30" text-anchor="end">0.5</text>
<text x="46.8" y="446.25" text-anchor="end">0.1</text>
</g>
<!-- legends -->
<rect x="58.75" y="10" width="103" height="75" rx="2.5" fill="#fff" fill-opacity=".8" stroke="#ccc" stroke-width="1"/>
<circle cx="75.5" cy="21" r="3.3" fill="#808080" fill-opacity=".3"/>
<circle cx="75.5" cy="38.75" r="3.3" fill="#008000"/>
<circle cx="75.5" cy="56.75" r="3.3" fill="#1f77b4"/>
<circle cx="75.5" cy="74.5" r="3.3" fill="#8a2be2"/>
<g font-size="12.2">
<text x="97.5" y="24.3">All HOPS</text>
<text x="97.5" y="42.0">Furlan16</text>
<text x="97.5" y="59.8">Mowat18</text>
<text x="97.5" y="77.6">Literature</text>
</g>
<rect x="58.75" y="229.5" width="136.75" height="40" rx="2.5" fill="#fff" fill-opacity=".8" stroke="#ccc" stroke-width="1"/>
<circle cx="75.5" cy="240" r="4.9" fill="none" stroke="#000" stroke-width="1.5"/>
<path d="M68 258.75H83M75.5 251.25V266.25" stroke="#000" stroke-width="1.5" fill="none"/>
<g font-size="12.2">
<text x="97.5" y="242.6">FAP<tspan font-size="8.4" dy="2.2">Mod</tspan><tspan dy="-2.2" dx=".5"> &lt; 0.001</tspan></text>
<text x="97.5" y="261.6">|<tspan font-style="italic">σ</tspan><tspan font-size="8.4" dy="2.2">max</tspan><tspan dy="-2.2">|</tspan><tspan dx="0"> &gt; 5</tspan></text>
</g>
<!-- axis labels -->
<g font-size="14.67">
<text transform="translate(11.4 113.6) rotate(-90)" text-anchor="middle">L<tspan font-size="10.27" dy="2.2">bol</tspan><tspan dy="-2.2"> [L</tspan><tspan font-size="10.27" dy="2.2">⊙</tspan><tspan dy="-2.2">]</tspan></text>
<text transform="translate(20.5 332.4) rotate(-90)" text-anchor="middle"><tspan font-style="italic">F̄</tspan> [Jy beam<tspan font-size="10.27" dy="-4.8">−1</tspan><tspan dy="4.8">]</tspan></text>
<text x="386.2" y="472.8" text-anchor="middle">T<tspan font-size="10.27" dy="2.2">bol</tspan><tspan dy="-2.2"> [K]</tspan></text>
</g>
</svg>
</body></html>
